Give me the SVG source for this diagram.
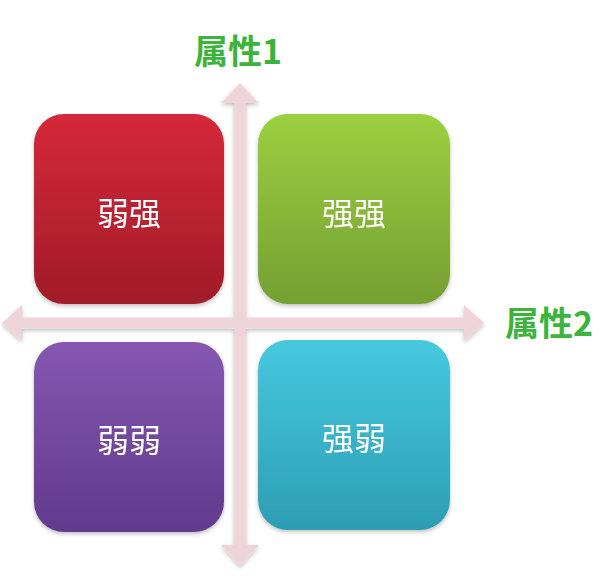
<svg xmlns="http://www.w3.org/2000/svg" width="604" height="580" viewBox="0 0 604 580">
<style>
.lbl{font-family:"Noto Sans CJK SC","Liberation Sans",sans-serif;font-weight:bold;font-size:34px;fill:#3cb43c;}
.txt{font-family:"Noto Sans CJK SC","Liberation Sans",sans-serif;font-size:32px;fill:#ffffff;text-anchor:middle;dominant-baseline:central;}
.arrow{fill:#efd5da;}
</style>
<defs>
<linearGradient id="gR" x1="0" y1="0" x2="0" y2="1"><stop offset="0" stop-color="#d5293a"/><stop offset="1" stop-color="#a11b29"/></linearGradient>
<linearGradient id="gG" x1="0" y1="0" x2="0" y2="1"><stop offset="0" stop-color="#9ccf40"/><stop offset="1" stop-color="#74a032"/></linearGradient>
<linearGradient id="gP" x1="0" y1="0" x2="0" y2="1"><stop offset="0" stop-color="#8557b1"/><stop offset="1" stop-color="#613a8c"/></linearGradient>
<linearGradient id="gT" x1="0" y1="0" x2="0" y2="1"><stop offset="0" stop-color="#46c9df"/><stop offset="1" stop-color="#2d9db3"/></linearGradient>
<filter id="sh" x="-10%" y="-10%" width="120%" height="120%"><feDropShadow dx="0" dy="2" stdDeviation="2" flood-color="#000" flood-opacity="0.25"/></filter>
</defs>
<rect width="604" height="580" fill="#ffffff"/>
<g id="connectors" filter="url(#sh)">
<polygon class="arrow" points="2,323 22,305 22,317.5 464,317.5 464,305 484,323 464,341 464,328.5 22,328.5 22,341"/>
<polygon class="arrow" points="240,83 259,103 246,103 246,545 259,545 240,566 221,545 234,545 234,103 221,103"/>
</g>
<g id="node-ws" filter="url(#sh)"><rect x="34" y="114" width="190" height="190" rx="30" fill="url(#gR)"/><text class="txt" x="129" y="211">弱强</text></g>
<g id="node-qq" filter="url(#sh)"><rect x="258" y="114" width="192" height="190" rx="30" fill="url(#gG)"/><text class="txt" x="354" y="211">强强</text></g>
<g id="node-ww" filter="url(#sh)"><rect x="34" y="342" width="190" height="190" rx="30" fill="url(#gP)"/><text class="txt" x="129" y="438">弱弱</text></g>
<g id="node-qw" filter="url(#sh)"><rect x="258" y="340" width="192" height="190" rx="30" fill="url(#gT)"/><text class="txt" x="354" y="436">强弱</text></g>
<g id="label-1"><text class="lbl" x="194" y="64">属性1</text></g>
<g id="label-2"><text class="lbl" x="505" y="336">属性2</text></g>
</svg>
